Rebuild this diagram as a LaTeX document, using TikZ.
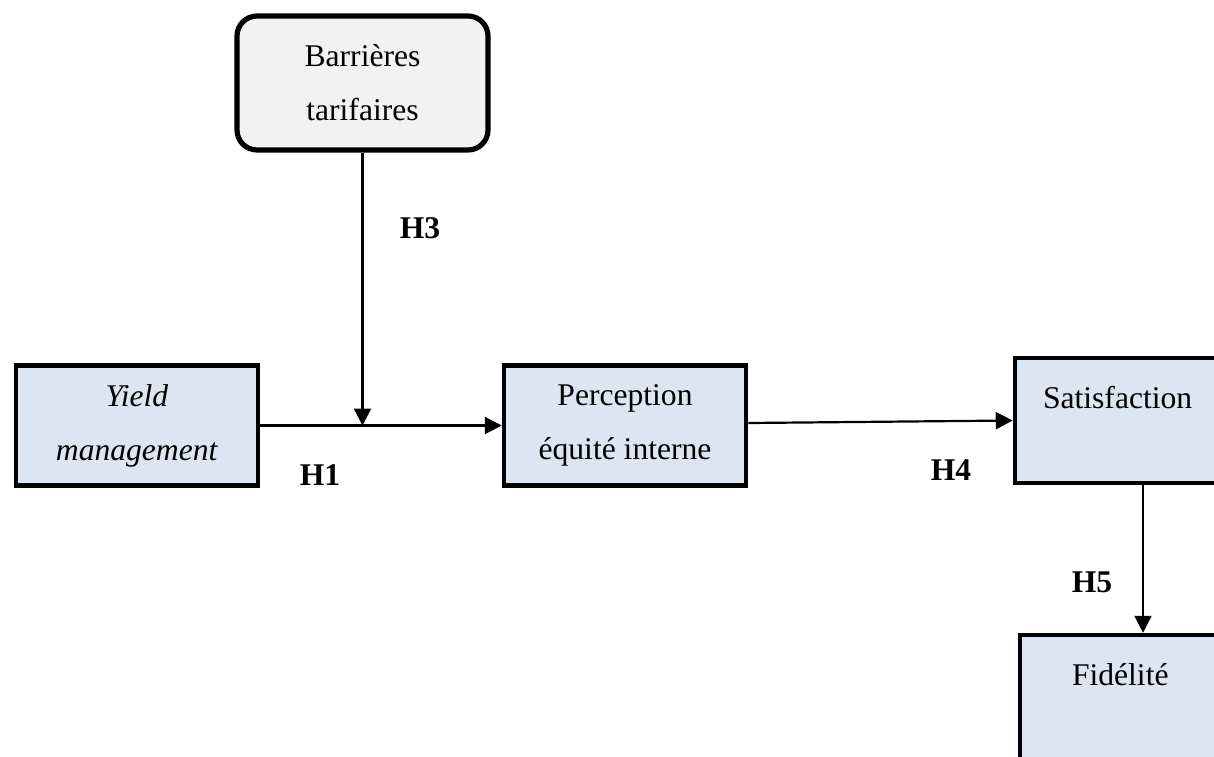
\documentclass[tikz,border=0pt]{standalone}
\usepackage{fontspec}
\setmainfont{Liberation Serif}
\usetikzlibrary{arrows.meta}
\definecolor{boxblue}{HTML}{DCE6F2}
\definecolor{boxgray}{HTML}{F2F2F2}
\begin{document}
\begin{tikzpicture}[x=0.5pt, y=-0.5pt,
        every node/.style={font=\fontsize{15.8}{27}\selectfont},
        hypbox/.style={draw, line width=2.25pt, fill=boxblue, align=center,
            inner sep=0pt, minimum width=121pt, minimum height=60pt},
        topbox/.style={hypbox, align=left, text height=11pt, text depth=23.5pt,
            minimum height=62.5pt},
        link/.style={line width=1.1pt, -{Triangle[width=8.5pt,length=8.5pt]}},
        hyp/.style={font=\fontsize{15.8}{19}\selectfont\bfseries}]
    \useasboundingbox (0,0) rectangle (1214,756);
    \clip (0,0) rectangle (1214,756);
    % boxes
    \node[hypbox, fill=boxgray, rounded corners=10pt, line width=2.6pt,
        minimum width=125.5pt, minimum height=67pt] (barr) at (362.5,83)
        {Barrières\\tarifaires};
    \node[hypbox] (yield) at (137,425.5) {\textit{Yield}\\\textit{management}};
    \node[hypbox] (perc) at (625,425.5) {Perception\\équité interne};
    \node[topbox, minimum width=112.5pt, text width=84.5pt] (sat) at (1127.5,420.5) {Satisfaction};
    \node[topbox, minimum width=110pt, text width=58pt] (fid) at (1130,697.5) {Fidélité};
    % links
    \coordinate (meet) at (barr.south |- yield.east);
    \draw[link] (yield.east) -- (perc.west);
    \draw[link] (barr.south) -- (meet);
    \draw[link] ([yshift=1.25pt]perc.east) -- (sat.west);
    \draw[link] ([xshift=7.75pt]sat.south) -- ([xshift=7.75pt]sat.south |- fid.north);
    % hypotheses
    \node[hyp] (h3) at (420,228) {H3};
    \node[hyp] (h1) at (320,475) {H1};
    \node[hyp] (h4) at (951,470) {H4};
    \node[hyp] (h5) at (1092,582) {H5};
\end{tikzpicture}
\end{document}
